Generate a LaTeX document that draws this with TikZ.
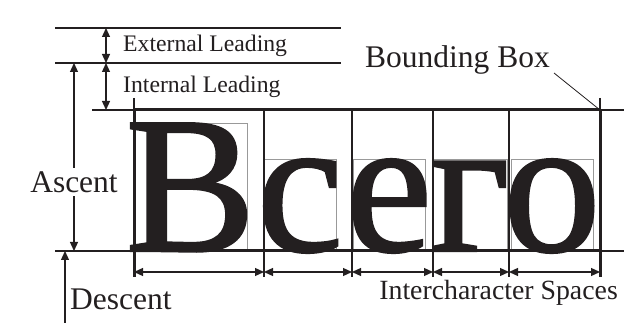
\documentclass[tikz,border=0pt]{standalone}
\usepackage{fontspec}
\setmainfont{Liberation Serif}
\newfontfamily\bigletterfont[FakeBold=1.2]{Liberation Serif}
\usetikzlibrary{arrows.meta}
\definecolor{ink}{HTML}{231F20}
\tikzset{
  thin line/.style={draw=ink, line width=1.3pt},
  thick line/.style={draw=ink, line width=3pt},
  divider/.style={draw=ink, line width=1.5pt},
  glyphbox/.style={draw=gray!80, line width=0.9pt},
  dimarrow/.style={draw=ink, line width=1.3pt, {Triangle[length=9pt,width=8pt]}-{Triangle[length=9pt,width=8pt]}},
  onearrow/.style={draw=ink, line width=1.3pt, -{Triangle[length=9pt,width=8pt]}},
  smalllabel/.style={text=ink, font=\fontsize{23.7}{24}\selectfont, inner sep=0pt},
  biglabel/.style={text=ink, font=\fontsize{31.5}{32}\selectfont, inner sep=0pt},
  midlabel/.style={text=ink, font=\fontsize{27.8}{28}\selectfont, inner sep=0pt},
  letter/.style={text=ink, font=\bigletterfont\fontsize{195}{195}\selectfont, inner sep=0pt, anchor=base, text depth=0pt},
}
\begin{document}
\begin{tikzpicture}[x=1pt,y=-1pt]
\useasboundingbox (0,0) rectangle (624,323);
% key coordinates
\coordinate (elT) at (55,28);  \coordinate (elTr) at (341,28);
\coordinate (ilT) at (55,63);  \coordinate (ilTr) at (341,63);
\coordinate (bbTLx) at (92,110); \coordinate (bbTL) at (134,110);
\coordinate (bbTR) at (600,110); \coordinate (bbTRx) at (624,110);
\coordinate (blL) at (55,251); \coordinate (bbBL) at (134,251);
\coordinate (bbBR) at (600,251); \coordinate (blR) at (624,251);
% horizontal guide lines
\path[thin line] (elT) -- (elTr);
\path[thin line] (ilT) -- (ilTr);
\path[thin line] (bbTLx) -- (bbTL);
\path[thin line] (bbTR) -- (bbTRx);
\path[thin line] (blL) -- (bbBL);
\path[thin line] (bbBR) -- (blR);
% glyph boxes
\path[glyphbox] (134,123) rectangle (247,251);
\path[glyphbox] (264,159) rectangle (336,251);
\path[glyphbox] (353,159) rectangle (425,251);
\path[glyphbox] (433,159) rectangle (507,251);
\path[glyphbox] (511,159) rectangle (593,251);
% letters
\node[letter] (l1) at (190.5,251) {В};
\node[letter] (l2) at (300,251) {с};
\node[letter] (l3) at (389,251) {е};
\node[letter] (l4) at (470,251) {г};
\node[letter] (l5) at (552,251) {о};
% dividers
\foreach \x/\n in {264/d1,352/d2,433/d3,509/d4}{
  \coordinate (\n t) at (\x,110); \coordinate (\n b) at (\x,277);
  \path[divider] (\n t) -- (\n b);
}
% bounding box sides and ticks
\coordinate (lt) at (134,98); \coordinate (lb) at (134,277);
\coordinate (rt) at (600,98); \coordinate (rb) at (600,277);
\path[divider] (lt) -- (bbTL);
\path[divider] (rt) -- (bbTR);
\path[thick line] (bbTL) -- (lb);
\path[thick line] (bbTR) -- (rb);
\path[thick line] (bbTL) -- (bbTR);
\path[thick line] (bbBL) -- (bbBR);
% leading arrows
\coordinate (ela) at (106,28); \coordinate (elb) at (106,63); \coordinate (ilb) at (106,110);
\path[dimarrow] (ela) -- (elb);
\path[dimarrow] (elb) -- (ilb);
\node[smalllabel, anchor=west] (ext) at (123,46) {External Leading};
\node[smalllabel, anchor=west] (int) at (123,87) {Internal Leading};
% ascent
\coordinate (asT) at (74,63); \coordinate (asB) at (74,251);
\path[dimarrow] (asT) -- (asB);
\node[biglabel, fill=white, inner sep=3pt] (asc) at (74,182) {Ascent};
% descent
\coordinate (dsB) at (65,323); \coordinate (dsT) at (65,251);
\path[onearrow] (dsB) -- (dsT);
\node[biglabel, anchor=west] (desc) at (70,299) {Descent};
% bounding box label
\node[biglabel, anchor=west] (bbl) at (365,60) {Bounding Box};
\coordinate (bbleader) at (554,73);
\draw[ink, line width=0.8pt] (bbleader) -- (bbTR);
% intercharacter arrows
\foreach \a/\b in {134/264,264/352,352/433,433/509,509/600}{
  \coordinate (ia\a) at (\a,272); \coordinate (ib\a) at (\b,272);
  \path[dimarrow] (ia\a) -- (ib\a);
}
\node[midlabel, anchor=east] (ics) at (618,293) {Intercharacter Spaces};
\end{tikzpicture}
\end{document}
